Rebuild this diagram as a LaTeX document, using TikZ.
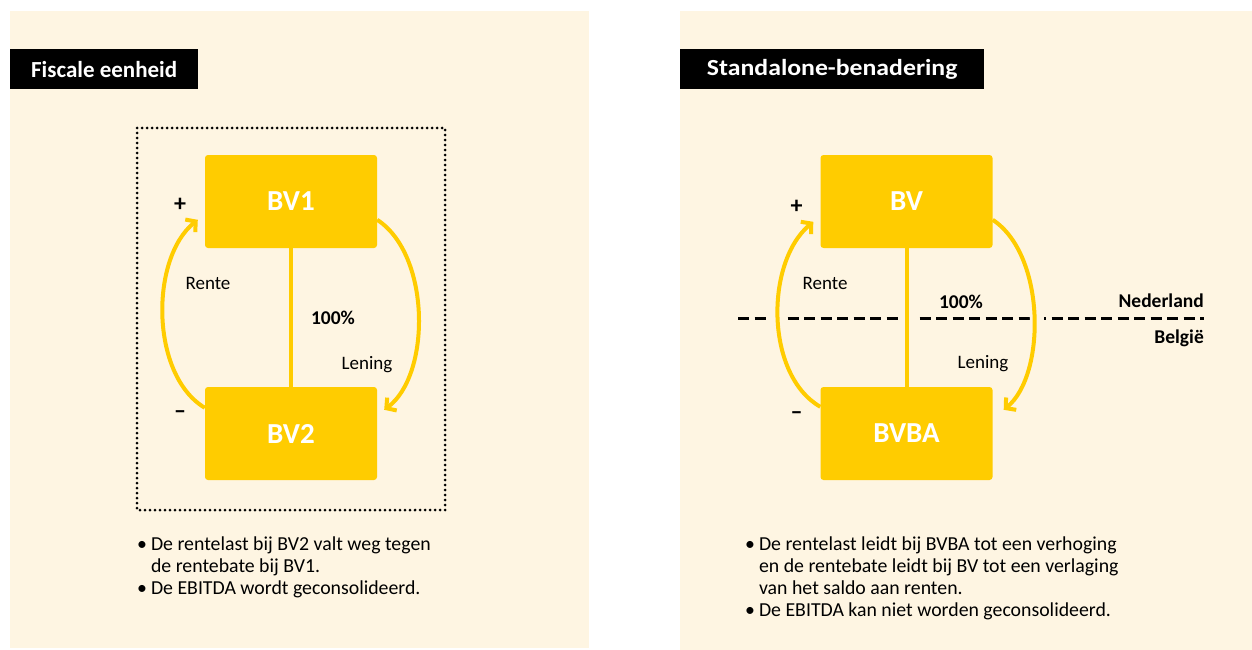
\documentclass[tikz,border=0pt]{standalone}
\usepackage{fontspec}
\setmainfont{Carlito}
\usetikzlibrary{arrows.meta,calc}
\definecolor{cream}{HTML}{FEF5E2}
\definecolor{gold}{HTML}{FFCC00}
\tikzset{
  panel/.style={fill=cream,draw=none},
  titlebox/.style={fill=black,text=white,inner sep=0pt,minimum height=40pt,
    font=\fontsize{23}{28}\selectfont\bfseries},
  company/.style={fill=gold,draw=none,rounded corners=3pt,minimum width=172pt,
    minimum height=93pt,inner sep=0pt,text=white,font=\fontsize{29}{34}\selectfont\bfseries},
  flow/.style={draw=gold,line width=4pt,-{Straight Barb[length=7pt,width=16pt,line width=4pt]},
    preaction={draw=cream,line width=14pt,shorten <=12pt,shorten >=14pt,-}},
  owner/.style={draw=gold,line width=4pt,
    preaction={draw=cream,line width=14pt,shorten <=12pt,shorten >=12pt}},
  lbl/.style={inner sep=0pt,font=\fontsize{19}{22}\selectfont},
  blbl/.style={inner sep=0pt,font=\fontsize{19.5}{22}\selectfont\bfseries},
  sign/.style={inner sep=0pt,font=\fontsize{24}{26}\selectfont\bfseries},
  bullets/.style={inner sep=0pt,anchor=base west,font=\fontsize{19.8}{22}\selectfont},
  unitbox/.style={draw=black,line width=3pt,dash pattern=on 0pt off 5pt,line cap=round},
  border/.style={draw=black,line width=3pt,dash pattern=on 11pt off 5.5pt}
}
\begin{document}
\begin{tikzpicture}[x=1pt,y=-1pt]
\useasboundingbox (0,0) rectangle (1252,650);
\fill[white] (0,0) rectangle (1252,650);
% panels
\path[panel] (10,11) rectangle (589,648);
\path[panel] (680,11) rectangle (1252,650);
% titles
\node[titlebox,minimum width=188pt,anchor=north west] (t1) at (10,49) {Fiscale eenheid};
\node[titlebox,minimum width=304pt,anchor=north west] (t2) at (680,49) {\scalebox{1.12}[1]{Standalone-benadering}};

% ---- left diagram
\draw[unitbox] (137,128) rectangle (445,510);
\node[company] (bv1) at (291,201.5) {BV1};
\node[company] (bv2) at (291,433.5) {BV2};
\draw[owner] (bv1.south) -- (bv2.north);
\draw[flow] ($(bv2.north west)+(0,21)$) .. controls (150,375) and (150,258) .. ($(bv1.north west)+(-7,65)$);
\draw[flow] ($(bv1.north east)+(0,65)$) .. controls (431,255) and (431,375) .. ($(bv2.north east)+(7,23)$);
\node[sign] (p1) at (180,205) {+};
\node[sign] (m1) at (180,415) {–};
\node[lbl] (r1) at (208,283) {Rente};
\node[blbl] (h1) at (333,318) {100\%};
\node[lbl] (l1) at (367,365) {Lening};
\node[bullets] (b1) at (137,550) {\begin{tabular}[t]{@{}l@{\hspace{4pt}}l@{}}
\textbullet & De rentelast bij BV2 valt weg tegen\\
 & de rentebate bij BV1.\\
\textbullet & De EBITDA wordt geconsolideerd.
\end{tabular}};

% ---- right diagram
\node[company] (bv) at (906.5,201.5) {BV};
\node[company] (bvba) at (906.5,433.5) {BVBA};
\coordinate (nlA) at (738,318);
\coordinate (nlB) at (1204,318);
\draw[border] (nlA) -- (nlB);
\draw[owner] (bv.south) -- (bvba.north);
\draw[flow] ($(bvba.north west)+(0,20)$) .. controls (765,375) and (765,262) .. ($(bv.north west)+(-7,67)$);
\draw[flow] ($(bv.north east)+(0,65)$) .. controls (1046,255) and (1046,375) .. ($(bvba.north east)+(11,23)$);
\node[sign] (p2) at (796.5,207) {+};
\node[sign] (m2) at (796.5,416) {–};
\node[lbl] (r2) at (825,283) {Rente};
\node[blbl] (h2) at (961,302) {100\%};
\node[lbl] (l2) at (983,364) {Lening};
\node[blbl,anchor=east] (nl) at (1204,301) {Nederland};
\node[blbl,anchor=east] (be) at (1204,338) {België};
\node[bullets] (b2) at (745,550) {\begin{tabular}[t]{@{}l@{\hspace{4pt}}l@{}}
\textbullet & De rentelast leidt bij BVBA tot een verhoging\\
 & en de rentebate leidt bij BV tot een verlaging\\
 & van het saldo aan renten.\\
\textbullet & De EBITDA kan niet worden geconsolideerd.
\end{tabular}};
\end{tikzpicture}
\end{document}
